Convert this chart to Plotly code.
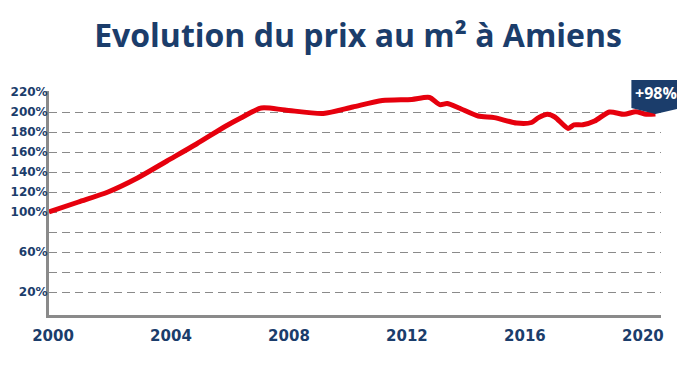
import plotly.graph_objects as go

# ---- data ----
years = [2000, 2001, 2002, 2003, 2004, 2005, 2006, 2006.5, 2007.2, 2008,
         2009.3, 2010.3, 2011.3, 2012.3, 2012.9, 2013.25, 2013.5, 2013.9,
         2014.55, 2015.1, 2015.85, 2016.36, 2016.6, 2016.9, 2017.15, 2017.6,
         2017.8, 2018.1, 2018.5, 2019.0, 2019.5, 2019.9, 2020.25, 2020.56]
values = [100, 110, 120, 134, 151, 168, 186, 194, 204, 202,
          198.5, 205, 211.5, 212.6, 214.5, 207.4, 208.4, 204,
          196, 194.4, 188.9, 189.5, 194.4, 197.7, 195, 183.6,
          187.2, 187.2, 191, 200, 197.7, 200.3, 197.7, 198]
x_ticks = [2000, 2004, 2008, 2012, 2016, 2020]
y_ticks = [20, 40, 60, 80, 100, 120, 140, 160, 180, 200, 220]
y_labels = ["20%", "", "60%", "", "100%", "120%", "140%", "160%", "180%", "200%", "220%"]
title_text = "Evolution du prix au m² à Amiens"
callout_text = "+98%"

NAVY = "#1b3d6b"
RED = "#e6000d"
GRID = "#8a8a8a"
TITLE_FONT = "Open Sans"
TICK_FONT = "DejaVu Sans"

x_range = [2000, 2020.75]
y_range = [-3, 221]

fig = go.Figure()
fig.add_trace(go.Scatter(
    x=years, y=values, mode="lines",
    line=dict(color=RED, width=5, shape="spline", smoothing=0.7),
    hoverinfo="skip", showlegend=False,
))

# callout anchored at the last point (pixel-sized shape in paper coords)
ax_p = (years[-1] - x_range[0]) / (x_range[1] - x_range[0])
ay_p = (values[-1] - y_range[0]) / (y_range[1] - y_range[0])
fig.add_shape(
    type="path", xref="paper", yref="paper",
    xsizemode="pixel", ysizemode="pixel",
    xanchor=ax_p, yanchor=ay_p,
    path="M 0,0 L -24,6 L -24,34 L 26,34 L 26,6 Z",
    fillcolor=NAVY, line=dict(width=0), layer="above",
)
fig.add_annotation(
    x=years[-1], y=values[-1], xref="x", yref="y",
    text=callout_text, showarrow=False, xshift=1, yshift=21,
    font=dict(family=TITLE_FONT, size=16, color="white", weight="bold"),
)

fig.update_layout(
    width=685, height=366,
    margin=dict(l=41, r=32, t=83, b=59),
    paper_bgcolor="white", plot_bgcolor="white",
    title=dict(
        text=title_text, x=0.511, xanchor="center",
        y=0.9235, yanchor="middle", yref="container",
        font=dict(family=TITLE_FONT, size=32, color=NAVY, weight="bold"),
    ),
    xaxis=dict(
        range=x_range, tickvals=x_ticks, ticktext=[str(v) for v in x_ticks],
        showgrid=False, zeroline=False, automargin=False,
        showline=True, linecolor=GRID, linewidth=3,
        ticks="", ticklabelstandoff=5, ticklabelshift=4,
        tickfont=dict(family=TICK_FONT, size=15, color=NAVY, weight="bold"),
    ),
    yaxis=dict(
        range=y_range, tickvals=y_ticks, ticktext=y_labels,
        showgrid=True, gridcolor=GRID, gridwidth=1.3, griddash="8px,5px",
        zeroline=False, automargin=False,
        showline=True, linecolor=GRID, linewidth=3,
        ticks="", ticklabelstandoff=-4,
        tickfont=dict(family=TICK_FONT, size=12, color=NAVY, weight="bold"),
    ),
)

fig.write_html("out.html")
